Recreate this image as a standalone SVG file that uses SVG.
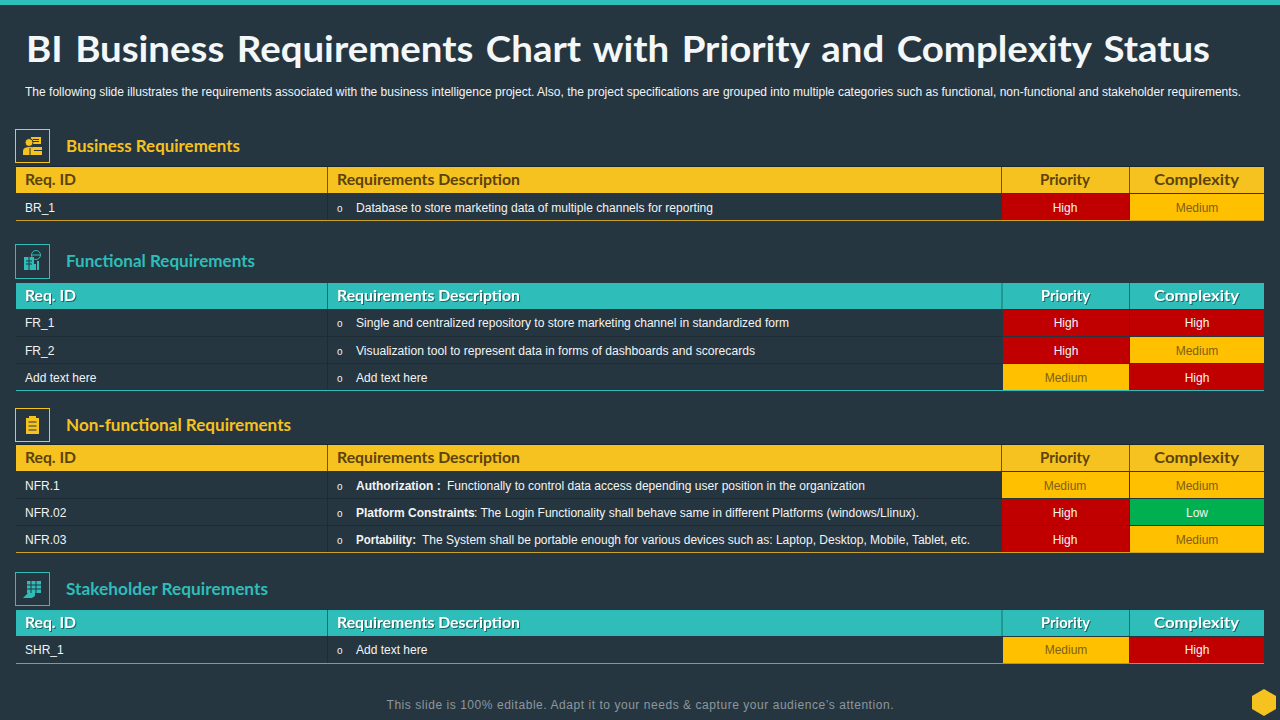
<svg xmlns="http://www.w3.org/2000/svg" width="1280" height="720" viewBox="0 0 1280 720">
<style>
.t{font-family:"Liberation Sans",Arial,sans-serif;font-size:12px;fill:#f2f4f5}
.o{font-family:"Liberation Sans",Arial,sans-serif;font-size:10px;fill:#f2f4f5}
.h{font-family:"Lato","Liberation Sans",sans-serif;font-size:16px;font-weight:700}
.c{text-anchor:middle}
.hy{fill:#5c430c}.ht{fill:#fff;filter:drop-shadow(1px 1px .6px rgba(0,0,0,.45))}
.s{font-family:"Lato","Liberation Sans",sans-serif;font-size:17px;font-weight:700}
.b{font-weight:700}
.red{fill:#c00000}.amb{fill:#ffc000}.grn{fill:#00b050}
.m{fill:#7d6117}
.sep{stroke:#1e2c36;stroke-width:1}
.hb{stroke:#1b2730;stroke-width:1}
</style>
<rect width="1280" height="720" fill="#263640"/>
<rect width="1280" height="5" fill="#2ebdb9"/>
<text id="title" x="26" y="62" textLength="1184" lengthAdjust="spacingAndGlyphs" style="font-family:Lato,'Liberation Sans',sans-serif;font-size:37px;font-weight:700;fill:#f4f7f8;word-spacing:3px">BI Business Requirements Chart with Priority and Complexity Status</text>
<text id="subtitle" class="t" x="25" y="96" textLength="1216" lengthAdjust="spacingAndGlyphs">The following slide illustrates the requirements associated with the business intelligence project. Also, the project specifications are grouped into multiple categories such as functional, non-functional and stakeholder requirements.</text>

<g id="section-business">
<rect x="15.500" y="129.500" width="34" height="33" fill="none" stroke="#f5c21f"/>
<g fill="#f5c21f"><rect x="31" y="137" width="10" height="7"/><rect x="33" y="147" width="9" height="8"/><path d="M23 155v-4q0-4 7-4t7 4v4z"/></g>
<circle cx="29" cy="142.500" r="4" fill="#f5c21f" stroke="#263640"/>
<path d="M33 139.500h6M33 141.500h6" stroke="#263640"/>
<path d="M30 148v7M34 150.500h8" stroke="#263640"/>
<text class="s" x="66" y="152" fill="#f5c21f" textLength="174" lengthAdjust="spacingAndGlyphs">Business  Requirements</text>
<path class="hb" d="M16 166.500H1264"/>
<rect x="16" y="167" width="1248" height="26" fill="#f5c21f"/>
<path d="M327.500 167v26M1001.500 167v26M1129.500 167v26" stroke="#6e5410"/>
<text class="h hy" x="25" y="185" textLength="51" lengthAdjust="spacingAndGlyphs">Req. ID</text>
<text class="h hy" x="337" y="185" textLength="183" lengthAdjust="spacingAndGlyphs">Requirements Description</text>
<text class="h hy" x="1040" y="185" textLength="50" lengthAdjust="spacingAndGlyphs">Priority</text>
<text class="h hy" x="1154" y="185" textLength="85" lengthAdjust="spacingAndGlyphs">Complexity</text>
<rect class="red" x="1002" y="194" width="127" height="26"/><rect class="amb" x="1130" y="194" width="134" height="26"/>
<path class="sep" d="M327.500 194v26"/>
<path d="M16 220.500H1264" stroke="#c9a227"/>
<text class="t" x="25" y="212">BR_1</text>
<text class="o" x="337" y="212">o</text>
<text class="t" x="356" y="212" textLength="357" lengthAdjust="spacingAndGlyphs">Database to store marketing data of multiple channels for reporting</text>
<text class="t c" x="1065" y="212">High</text><text class="t c m" x="1197" y="212">Medium</text>
</g>

<g id="section-functional">
<rect x="15.500" y="244.500" width="34" height="34" fill="none" stroke="#2ebdb9"/>
<g fill="#2ebdb9"><rect x="24" y="257" width="10" height="13"/><rect x="34" y="264" width="2" height="6"/><rect x="37" y="261" width="2" height="9"/></g>
<circle cx="36" cy="255" r="4.500" fill="none" stroke="#2ebdb9"/><path d="M32 255h8" stroke="#2ebdb9"/>
<path d="M26 261h6M26 264h6M29 257v13" stroke="#263640"/>
<text class="s" x="66" y="267" fill="#2ebdb9" textLength="189" lengthAdjust="spacingAndGlyphs">Functional Requirements</text>
<rect x="16" y="283" width="1248" height="26" fill="#2ebdb9"/>
<path d="M327.500 283v26M1002 283v26M1129.500 283v26" stroke="#17706f"/>
<text class="h ht" x="25" y="301" textLength="51" lengthAdjust="spacingAndGlyphs">Req. ID</text>
<text class="h ht" x="337" y="301" textLength="183" lengthAdjust="spacingAndGlyphs">Requirements Description</text>
<text class="h ht" x="1041" y="301" textLength="49" lengthAdjust="spacingAndGlyphs">Priority</text>
<text class="h ht" x="1154" y="301" textLength="85" lengthAdjust="spacingAndGlyphs">Complexity</text>
<rect class="red" x="1003" y="310" width="126" height="26"/><rect class="red" x="1130" y="310" width="134" height="26"/>
<rect class="red" x="1003" y="337" width="126" height="26"/><rect class="amb" x="1130" y="337" width="134" height="26"/>
<rect class="amb" x="1003" y="364" width="126" height="26"/><rect class="red" x="1130" y="364" width="134" height="26"/>
<path class="sep" d="M16 336.500H1002M16 363.500H1002M327.500 310v80"/>
<path d="M16 390.500H1264" stroke="#2ebdb9"/>
<text class="t" x="25" y="327">FR_1</text><text class="o" x="337" y="327">o</text>
<text class="t" x="356" y="327" textLength="433" lengthAdjust="spacingAndGlyphs">Single and centralized repository to store marketing channel in standardized form</text>
<text class="t c" x="1066" y="327">High</text><text class="t c" x="1197" y="327">High</text>
<text class="t" x="25" y="355">FR_2</text><text class="o" x="337" y="355">o</text>
<text class="t" x="356" y="355" textLength="399" lengthAdjust="spacingAndGlyphs">Visualization tool to represent data in forms of dashboards and scorecards</text>
<text class="t c" x="1066" y="355">High</text><text class="t c m" x="1197" y="355">Medium</text>
<text class="t" x="25" y="382">Add text here</text><text class="o" x="337" y="382">o</text>
<text class="t" x="356" y="382">Add text here</text>
<text class="t c m" x="1066" y="382">Medium</text><text class="t c" x="1197" y="382">High</text>
</g>

<g id="section-nonfunctional">
<rect x="15.500" y="408.500" width="34" height="33" fill="none" stroke="#f5c21f"/>
<rect x="26" y="418" width="13" height="16" fill="#f5c21f"/><rect x="29" y="416" width="7" height="3" fill="#f5c21f"/>
<path d="M28.500 422h8M28.500 426h8M28.500 430h8" stroke="#263640"/>
<text class="s" x="66" y="431" fill="#f5c21f" textLength="225" lengthAdjust="spacingAndGlyphs">Non-functional Requirements</text>
<path class="hb" d="M16 444.500H1264"/>
<rect x="16" y="445" width="1248" height="26" fill="#f5c21f"/>
<path d="M327.500 445v26M1001.500 445v26M1129.500 445v26" stroke="#6e5410"/>
<text class="h hy" x="25" y="463" textLength="51" lengthAdjust="spacingAndGlyphs">Req. ID</text>
<text class="h hy" x="337" y="463" textLength="183" lengthAdjust="spacingAndGlyphs">Requirements Description</text>
<text class="h hy" x="1040" y="463" textLength="50" lengthAdjust="spacingAndGlyphs">Priority</text>
<text class="h hy" x="1154" y="463" textLength="85" lengthAdjust="spacingAndGlyphs">Complexity</text>
<rect class="amb" x="1002" y="472" width="127" height="26"/><rect class="amb" x="1130" y="472" width="134" height="26"/>
<rect class="red" x="1002" y="499" width="127" height="26"/><rect class="grn" x="1130" y="499" width="134" height="26"/>
<rect class="red" x="1002" y="526" width="127" height="26"/><rect class="amb" x="1130" y="526" width="134" height="26"/>
<path class="sep" d="M16 498.500H1002M16 525.500H1002M327.500 472v80"/>
<path d="M16 552.500H1264" stroke="#c9a227"/>
<text class="t" x="25" y="490">NFR.1</text><text class="o" x="337" y="490">o</text>
<text class="t b" x="356" y="490">Authorization  :</text>
<text class="t" x="447" y="490" textLength="418" lengthAdjust="spacingAndGlyphs">Functionally to control data access depending user position in the organization</text>
<text class="t c m" x="1065" y="490">Medium</text><text class="t c m" x="1197" y="490">Medium</text>
<text class="t" x="25" y="517">NFR.02</text><text class="o" x="337" y="517">o</text>
<text class="t b" x="356" y="517">Platform Constraints</text>
<text class="t" x="474" y="517" textLength="445" lengthAdjust="spacingAndGlyphs">: The Login Functionality shall behave same in different Platforms (windows/Llinux).</text>
<text class="t c" x="1065" y="517">High</text><text class="t c" x="1197" y="517">Low</text>
<text class="t" x="25" y="544">NFR.03</text><text class="o" x="337" y="544">o</text>
<text class="t b" x="356" y="544" textLength="60" lengthAdjust="spacingAndGlyphs">Portability:</text>
<text class="t" x="422" y="544" textLength="548" lengthAdjust="spacingAndGlyphs">The System shall be portable enough for various devices such as: Laptop, Desktop, Mobile, Tablet, etc.</text>
<text class="t c" x="1065" y="544">High</text><text class="t c m" x="1197" y="544">Medium</text>
</g>

<g id="section-stakeholder">
<rect x="15.500" y="572.500" width="34" height="33" fill="none" stroke="#2ebdb9"/>
<g fill="#2ebdb9"><rect x="27" y="581" width="14" height="12"/><path d="M23 598l5-5h7v3l-3 2z"/></g>
<path d="M27 585h14M27 589h14M31 581v12M36 581v12" stroke="#263640"/>
<text class="s" x="66" y="595" fill="#2ebdb9" textLength="202" lengthAdjust="spacingAndGlyphs">Stakeholder Requirements</text>
<rect x="16" y="610" width="1248" height="26" fill="#2ebdb9"/>
<path d="M327.500 610v26M1002 610v26M1129.500 610v26" stroke="#17706f"/>
<text class="h ht" x="25" y="628" textLength="51" lengthAdjust="spacingAndGlyphs">Req. ID</text>
<text class="h ht" x="337" y="628" textLength="183" lengthAdjust="spacingAndGlyphs">Requirements Description</text>
<text class="h ht" x="1041" y="628" textLength="49" lengthAdjust="spacingAndGlyphs">Priority</text>
<text class="h ht" x="1154" y="628" textLength="85" lengthAdjust="spacingAndGlyphs">Complexity</text>
<rect class="amb" x="1003" y="637" width="126" height="26"/><rect class="red" x="1130" y="637" width="134" height="26"/>
<path class="sep" d="M327.500 637v26"/>
<path d="M16 663.500H1264" stroke="#2ebdb9"/>
<text class="t" x="25" y="654">SHR_1</text><text class="o" x="337" y="654">o</text>
<text class="t" x="356" y="654">Add text here</text>
<text class="t c m" x="1066" y="654">Medium</text><text class="t c" x="1197" y="654">High</text>
</g>

<text id="footer" class="t c" x="640" y="709" textLength="507" lengthAdjust="spacing" style="fill:#8d979d">This slide is 100% editable. Adapt it to your needs &amp; capture your audience’s attention.</text>
<polygon id="badge" points="1264,689 1276,696 1276,709 1264,716 1252,709 1252,696" fill="#f5c21f"/>
</svg>
